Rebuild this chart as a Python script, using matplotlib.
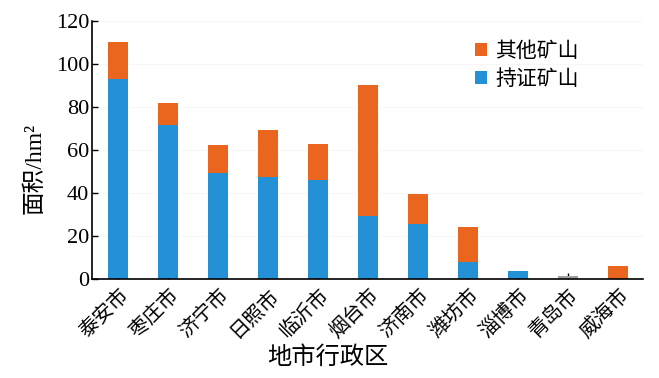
import numpy as np
import matplotlib
matplotlib.use('Agg')
import matplotlib.pyplot as plt

plt.rcParams['font.family'] = ['Liberation Serif', 'Noto Sans CJK SC', 'DejaVu Sans']

# 数据
cities = ['泰安市', '枣庄市', '济宁市', '日照市', '临沂市', '烟台市',
          '济南市', '潍坊市', '淄博市', '青岛市', '威海市']
licensed = [93, 71.5, 49.5, 47.5, 46, 29.5, 25.5, 8, 3.5, 0, 0]
others = [17.5, 10.5, 13, 22, 17, 61, 14, 16, 0, 0, 6]
unclassified = [0, 0, 0, 0, 0, 0, 0, 0, 0, 1.5, 0]
yticks = [0, 20, 40, 60, 80, 100, 120]

c_blue = '#2490D6'
c_orange = '#EA661E'
c_gray = '#A0A0A0'

x = np.arange(len(cities))
licensed = np.array(licensed)
others = np.array(others)

fig = plt.figure(figsize=(6.59, 3.78), dpi=100)
ax = fig.add_axes([0.1396, 0.262, 0.8364, 0.682])

ax.bar(x, licensed, width=0.4, color=c_blue, label='持证矿山', zorder=2)
ax.bar(x, others, width=0.4, bottom=licensed, color=c_orange, label='其他矿山', zorder=2)
ax.bar(x, unclassified, width=0.4, color=c_gray, zorder=2)

ax.set_xlim(-0.52, 10.5)
ax.set_ylim(0, 120)
ax.set_yticks(yticks)
ax.set_yticklabels([str(v) for v in yticks], fontsize=16)
ax.set_xticks(x)
ax.set_xticklabels(cities, rotation=45, ha='right', rotation_mode='anchor',
                   fontsize=14.5, family=['Noto Sans CJK SC'])
ax.tick_params(axis='both', direction='in', length=4, width=1)
ax.tick_params(axis='x', pad=4)
ax.tick_params(axis='y', pad=2)

for s in ['top', 'right']:
    ax.spines[s].set_visible(False)
for s in ['left', 'bottom']:
    ax.spines[s].set_linewidth(1.2)

ax.yaxis.grid(True, color='#f7f7f7', linewidth=0.8, zorder=0)

ax.set_ylabel('面积/hm²', fontsize=17)
ax.yaxis.set_label_coords(-0.085, 0.43)
ax.set_xlabel('地市行政区', fontsize=17.5, family=['Noto Sans CJK SC'])
ax.xaxis.set_label_coords(0.428, -0.25)

h, l = ax.get_legend_handles_labels()
ax.legend(h[::-1], l[::-1], loc='upper left', bbox_to_anchor=(0.66, 1.0),
          frameon=False, prop={'family': 'Noto Sans CJK SC', 'size': 15},
          handlelength=0.6, handleheight=0.6, handletextpad=0.4, labelspacing=0.3)

fig.savefig('out.png', dpi=100)
